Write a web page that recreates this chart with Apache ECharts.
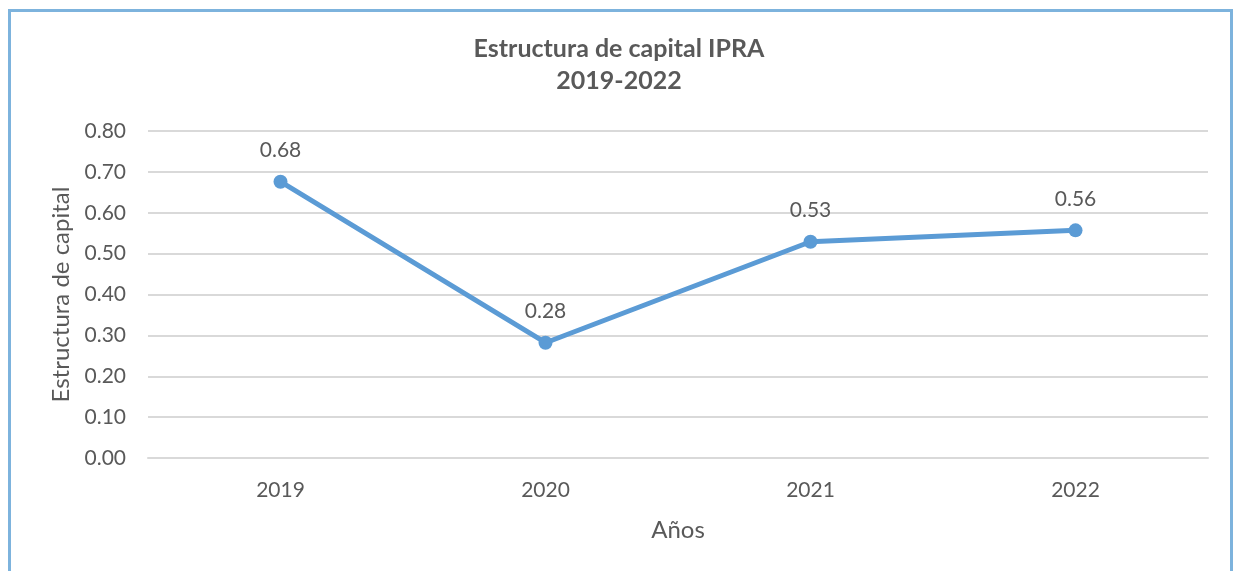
<!DOCTYPE html>
<html>
<head>
<meta charset="utf-8">
<script src="https://cdn.jsdelivr.net/npm/echarts@6/dist/echarts.min.js"></script>
<style>
html,body{margin:0;padding:0;background:#fff;}
#wrap{position:absolute;left:8px;top:9px;width:1225px;height:600px;border:3px solid #7DB3DD;box-sizing:border-box;}
#chart{position:absolute;left:0;top:0;width:1238px;height:571px;}
</style>
</head>
<body>
<div id="wrap"></div>
<div id="chart"></div>
<script>
const categories = ['2019', '2020', '2021', '2022'];
const values = [0.676, 0.282, 0.529, 0.557];
const valueLabels = ['0.68', '0.28', '0.53', '0.56'];
const yTicks = ['0.00','0.10','0.20','0.30','0.40','0.50','0.60','0.70','0.80'];

const FONT = 'Lato';
const TXT = '#595959';
const chart = echarts.init(document.getElementById('chart'), null, {renderer:'canvas'});
chart.setOption({
  backgroundColor: 'transparent',
  animation: false,
  title: {
    text: 'Estructura de capital IPRA\n2019-2022',
    left: 'center', top: 28,
    textStyle: {fontFamily: FONT, fontWeight: 'bold', fontSize: 25, color: TXT, lineHeight: 32}
  },
  grid: {left: 148, right: 30, top: 131, bottom: 113},
  xAxis: {
    type: 'category', data: categories, boundaryGap: true,
    name: 'Años', nameLocation: 'middle', nameGap: 60,
    nameTextStyle: {fontFamily: FONT, fontSize: 24, color: TXT},
    axisLine: {lineStyle: {color: '#D9D9D9', width: 2}},
    axisTick: {show: false},
    axisLabel: {fontFamily: FONT, fontSize: 21, color: TXT, margin: 22}
  },
  yAxis: {
    type: 'value', min: 0, max: 0.8, interval: 0.1,
    name: 'Estructura de capital', nameLocation: 'middle', nameGap: 74,
    nameTextStyle: {fontFamily: FONT, fontSize: 24, color: TXT},
    axisLine: {show: false}, axisTick: {show: false},
    splitLine: {lineStyle: {color: '#D9D9D9', width: 2}},
    axisLabel: {fontFamily: FONT, fontSize: 21, color: TXT, margin: 22,
      formatter: function(v){ return yTicks[Math.round(v*10)]; }}
  },
  series: [{
    type: 'line', data: values,
    symbol: 'circle', symbolSize: 14,
    lineStyle: {color: '#5B9BD5', width: 5},
    itemStyle: {color: '#5B9BD5'},
    label: {show: true, position: 'top', distance: 14,
      fontFamily: FONT, fontSize: 21, color: TXT,
      formatter: function(p){ return valueLabels[p.dataIndex]; }}
  }]
});
</script>
</body>
</html>
